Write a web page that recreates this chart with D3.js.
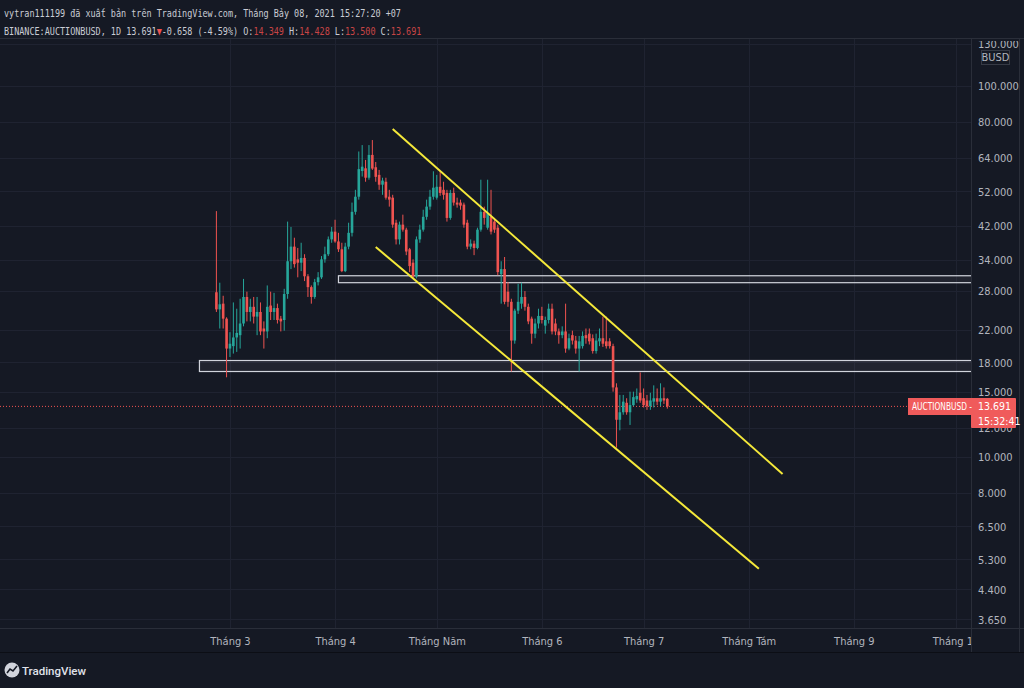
<!DOCTYPE html>
<html>
<head>
<meta charset="utf-8">
<script src="https://cdn.jsdelivr.net/npm/d3@7"></script>
<style>
  html, body { margin: 0; padding: 0; background: #151924; }
  svg { display: block; }
  .ax text { font-family: "Liberation Sans Narrow", "DejaVu Sans Condensed", Roboto, sans-serif; font-size: 11px; fill: #b2b5be; }
</style>
</head>
<body>
<script>
// daily candles, BINANCE:AUCTIONBUSD 1D, starting 2021-02-25
var startDay = new Date(Date.UTC(2021, 1, 25));

var open = [27.8,25.0,25.9,23.6,19.6,19.9,21.0,21.3,22.9,27.0,24.6,25.4,23.9,24.6,22.2,21.8,25.6,24.6,25.2,23.6,
  23.4,27.5,33.7,36.9,34.1,33.4,34.4,30.7,28.7,27.0,29.6,30.5,34.1,35.2,38.6,40.5,38.1,36.3,31.7,36.9,
  40.2,45.8,50.3,59.0,60.0,56.6,65.2,60.4,57.6,54.2,55.2,50.3,50.0,42.8,38.6,42.3,41.0,36.3,33.4,30.7,
  38.6,41.0,44.4,47.3,50.3,50.0,53.5,52.5,51.5,44.1,51.5,48.5,48.5,47.9,42.8,36.9,37.6,36.6,41.0,45.8,
  41.5,44.4,43.1,41.5,31.1,32.1,27.9,26.2,20.6,24.8,25.9,27.0,25.4,23.6,21.5,22.9,24.0,22.6,23.4,25.1,
  22.9,21.8,21.3,21.8,19.6,21.3,20.6,19.6,19.9,21.3,21.5,20.9,19.3,20.5,20.9,20.5,20.5,19.9,15.4,12.6,
  13.2,14.0,13.2,13.8,14.3,14.9,14.4,14.2,13.7,14.1,14.4,14.1,14.4,14.349];
var high = [46.0,29.5,27.2,23.8,21.7,26.1,25.1,26.7,30.2,27.9,26.7,27.0,27.0,26.1,23.2,29.0,27.9,27.7,25.9,24.0,
  28.4,43.1,41.7,39.0,36.6,37.8,35.2,31.1,29.0,30.2,31.5,34.8,36.9,39.3,41.7,43.6,40.2,37.8,37.8,42.8,
  48.5,52.5,66.6,69.3,63.2,69.3,71.5,62.4,59.4,56.6,56.6,52.5,50.9,43.6,43.1,45.0,41.5,36.6,34.1,39.3,
  42.3,46.4,49.4,52.5,58.9,57.6,58.9,55.2,52.5,52.5,53.2,50.0,49.4,48.5,43.6,38.6,38.3,41.5,55.9,47.3,
  55.9,52.5,44.1,42.3,33.7,34.6,29.6,26.7,25.1,29.3,29.5,28.0,25.9,23.9,23.6,25.1,25.4,23.9,25.9,25.9,
  23.6,22.2,22.5,25.9,21.5,21.9,21.2,21.2,21.8,22.2,22.2,21.4,21.5,22.2,23.9,23.9,20.9,20.2,15.8,14.7,
  14.7,14.4,15.0,15.0,15.3,16.9,15.3,14.7,14.9,15.6,15.3,15.8,15.4,14.428];
var low = [24.6,22.2,22.2,16.4,18.6,19.0,19.2,19.6,22.5,23.2,23.2,22.9,21.3,21.3,19.6,20.9,23.4,23.4,22.9,21.8,
  21.9,26.7,32.1,32.4,30.5,31.7,29.8,27.0,25.9,26.7,29.0,30.2,33.4,34.8,37.8,37.8,35.7,31.5,31.5,36.3,
  39.3,45.0,49.4,57.0,55.2,55.9,59.4,55.2,52.5,50.9,49.4,47.3,41.5,37.4,37.4,40.5,35.0,31.5,30.2,30.3,
  37.8,40.5,43.6,46.4,49.4,49.4,50.6,49.4,43.1,43.6,47.6,47.0,46.4,41.5,36.3,36.3,35.0,36.3,40.5,42.3,
  41.0,39.8,40.2,30.9,25.9,25.8,25.4,17.0,20.2,24.3,25.1,24.8,22.8,20.2,20.9,22.2,22.9,21.5,22.9,21.4,
  21.3,20.2,20.9,19.1,19.4,20.1,19.0,17.0,19.6,20.2,20.1,19.0,19.0,19.9,19.8,19.6,19.6,15.0,10.6,11.8,
  13.0,13.0,12.2,13.7,14.0,14.0,13.6,13.4,13.4,13.6,13.8,13.7,13.9,13.5];
var close = [25.0,25.8,23.6,19.6,20.2,21.0,21.6,22.9,27.0,24.6,25.4,23.9,24.6,21.8,21.8,25.4,24.6,25.2,23.4,23.2,
  27.5,33.7,36.9,33.1,33.4,34.4,30.7,28.7,27.0,29.6,30.5,34.1,35.2,38.6,40.5,38.1,36.3,31.7,36.9,40.2,
  45.8,50.3,59.7,60.6,56.6,65.2,59.9,56.9,54.2,55.6,50.0,49.4,42.3,38.6,42.3,41.0,35.8,32.7,30.7,38.6,
  41.0,44.4,47.3,50.3,53.2,53.5,51.5,50.9,44.1,51.5,48.5,47.9,47.6,42.3,36.9,37.6,36.6,41.0,45.8,44.1,
  45.4,40.5,41.0,31.5,32.1,26.2,26.2,20.6,24.8,26.2,27.0,25.4,23.2,21.5,22.9,24.0,23.4,23.4,25.1,21.8,
  21.8,21.3,21.8,19.6,20.9,20.6,19.6,20.5,21.2,20.9,20.5,19.3,20.6,20.9,20.2,19.9,19.9,15.4,12.6,13.2,
  14.1,13.2,13.8,14.5,14.6,14.2,13.8,13.7,14.2,14.4,14.1,14.4,14.2,13.691];

// axes labels
var priceTicks = [130, 100, 80, 64, 52, 42, 34, 28, 22, 18, 15, 12, 10, 8, 6.5, 5.3, 4.4, 3.65];
var monthDates = [[2021,2],[2021,3],[2021,4],[2021,5],[2021,6],[2021,7],[2021,8],[2021,9]];
var monthLabels = ["Tháng 3", "Tháng 4", "Tháng Năm", "Tháng 6", "Tháng 7", "Tháng Tám", "Tháng 9", "Tháng 10"];

// drawings: horizontal zones and the descending channel
var zoneStart = [[2021,1,20], [2021,3,2]];
var zoneTop = [18.2, 30.8];
var zoneBottom = [17.0, 29.5];
var channelUpper = [[[2021,3,18], 76.6], [[2021,7,11], 9.0]];
var channelLower = [[[2021,3,13], 36.8], [[2021,7,4], 5.0]];

var width = 1024, height = 688;
var plotL = 0, plotR = 971, plotT = 38, plotB = 628;

var bg = "#151924", grid = "#1f2331", txt = "#b2b5be";
var up = "#26a69a", down = "#ef5350";

function day(a) { return new Date(Date.UTC(a[0], a[1], a[2] || 1)); }

var svg = d3.select('body').append('svg').attr('width', width).attr('height', height);
svg.append('rect').attr('width', width).attr('height', height).attr('fill', bg);

// scales
var x = d3.scaleUtc()
  .domain([startDay, day([2021,9,1])])
  .range([216.4, 955.5]);
var y = d3.scaleLog()
  .domain([10, 100])
  .range([457, 86]);

svg.append('clipPath').attr('id', 'plot')
  .append('rect').attr('x', plotL).attr('y', plotT).attr('width', plotR - plotL).attr('height', plotB - plotT);

// grid
var g = svg.append('g').attr('clip-path', 'url(#plot)');
g.selectAll('.hg').data(priceTicks).enter().append('line')
  .attr('x1', plotL).attr('x2', plotR)
  .attr('y1', function(d){ return Math.round(y(d)) + 0.5; })
  .attr('y2', function(d){ return Math.round(y(d)) + 0.5; })
  .attr('stroke', grid);
g.selectAll('.vg').data(monthDates).enter().append('line')
  .attr('y1', plotT).attr('y2', plotB)
  .attr('x1', function(d){ return Math.round(x(day(d))) + 0.5; })
  .attr('x2', function(d){ return Math.round(x(day(d))) + 0.5; })
  .attr('stroke', grid);

// zones
zoneTop.forEach(function(t, i){
  var x0 = x(day(zoneStart[i]));
  g.append('rect')
    .attr('x', x0).attr('y', y(t))
    .attr('width', plotR + 5 - x0).attr('height', y(zoneBottom[i]) - y(t))
    .attr('fill', 'rgba(120,123,134,0.12)')
    .attr('stroke', '#d1d4dc').attr('stroke-width', 1.2);
});

// last price dotted line
g.append('line')
  .attr('x1', plotL).attr('x2', plotR)
  .attr('y1', y(close[close.length-1])).attr('y2', y(close[close.length-1]))
  .attr('stroke', down).attr('stroke-dasharray', '1,2');

// candles
var candles = close.map(function(c, i){
  return { t: d3.utcDay.offset(startDay, i), o: open[i], h: high[i], l: low[i], c: c };
});
var cg = g.selectAll('.candle').data(candles).enter().append('g');
cg.append('line')
  .attr('x1', function(d){ return x(d.t); }).attr('x2', function(d){ return x(d.t); })
  .attr('y1', function(d){ return y(d.h); }).attr('y2', function(d){ return y(d.l); })
  .attr('stroke', function(d){ return d.c >= d.o ? up : down; })
  .attr('stroke-width', 1);
cg.append('rect')
  .attr('x', function(d){ return x(d.t) - 1.3; })
  .attr('width', 2.6)
  .attr('y', function(d){ return y(Math.max(d.o, d.c)); })
  .attr('height', function(d){ return Math.max(1, Math.abs(y(d.o) - y(d.c))); })
  .attr('fill', function(d){ return d.c >= d.o ? up : down; });

// channel lines
[channelUpper, channelLower].forEach(function(ln){
  g.append('line')
    .attr('x1', x(day(ln[0][0]))).attr('y1', y(ln[0][1]))
    .attr('x2', x(day(ln[1][0]))).attr('y2', y(ln[1][1]))
    .attr('stroke', '#f5e93a').attr('stroke-width', 2);
});

// frame lines
svg.append('line').attr('x1', 0).attr('x2', width).attr('y1', plotT + 0.5).attr('y2', plotT + 0.5).attr('stroke', '#2a2e39');
svg.append('line').attr('x1', plotR + 0.5).attr('x2', plotR + 0.5).attr('y1', plotT).attr('y2', 652).attr('stroke', '#2a2e39');
svg.append('line').attr('x1', 1019.5).attr('x2', 1019.5).attr('y1', plotT).attr('y2', 652).attr('stroke', '#2a2e39');
svg.append('line').attr('x1', 0).attr('x2', width).attr('y1', plotB + 0.5).attr('y2', plotB + 0.5).attr('stroke', '#2a2e39');
svg.append('line').attr('x1', 0).attr('x2', width).attr('y1', 652.5).attr('y2', 652.5).attr('stroke', '#0c0e15');

// price axis (top label is cut by the pane edge)
svg.append('clipPath').attr('id', 'paxis').append('rect')
  .attr('x', plotR + 1).attr('y', 41).attr('width', 48).attr('height', plotB - 41);
var yAxis = d3.axisRight(y).tickValues(priceTicks).tickFormat(d3.format('.3f')).tickSize(0).tickPadding(7);
var ya = svg.append('g').attr('clip-path', 'url(#paxis)')
  .append('g').attr('class', 'ax').attr('transform', 'translate(' + plotR + ',0)').call(yAxis);
ya.select('.domain').remove();
ya.selectAll('text').attr('dy', '0.35em');

// BUSD tag
svg.append('rect').attr('x', 981.5).attr('y', 50.5).attr('width', 28).attr('height', 14)
  .attr('fill', bg).attr('stroke', '#363a45');
svg.append('text').attr('x', 995.5).attr('y', 61).attr('text-anchor', 'middle')
  .style('font-family', '"Liberation Sans Narrow", "DejaVu Sans Condensed", sans-serif')
  .style('font-size', '11px').attr('fill', txt).text('BUSD');

// time axis
svg.append('clipPath').attr('id', 'taxis').append('rect')
  .attr('x', 0).attr('y', plotB).attr('width', plotR).attr('height', 24);
var xAxis = d3.axisBottom(x)
  .tickValues(monthDates.map(day))
  .tickFormat(function(d, i){ return monthLabels[i]; })
  .tickSize(0).tickPadding(9);
var xa = svg.append('g').attr('clip-path', 'url(#taxis)')
  .append('g').attr('class', 'ax').attr('transform', 'translate(0,' + plotB + ')').call(xAxis);
xa.select('.domain').remove();

// last price label
var lastY = Math.round(y(close[close.length-1]));
svg.append('rect').attr('x', 908).attr('y', lastY - 8).attr('width', 64).attr('height', 17).attr('fill', '#f05b5b');
svg.append('rect').attr('x', 971).attr('y', lastY - 8).attr('width', 45).attr('height', 30).attr('fill', '#f05b5b').attr('rx', 1);
var lab = svg.append('g').style('font-family', '"Liberation Sans Narrow", "DejaVu Sans Condensed", sans-serif')
  .style('font-size', '10.5px').attr('fill', '#ffffff');
lab.append('text').attr('x', 912).attr('y', lastY + 4)
  .attr('textLength', 60).attr('lengthAdjust', 'spacingAndGlyphs').text('AUCTIONBUSD -');
lab.append('text').attr('x', 978).attr('y', lastY + 4).text(d3.format('.3f')(close[close.length-1]));
lab.append('text').attr('x', 978).attr('y', lastY + 19).text('15:32:41');

// header: monospace squeezed horizontally like the screenshot font
var hf = '"DejaVu Sans Mono", "Liberation Mono", monospace';
var squeeze = 0.77;
svg.append('g').attr('transform', 'translate(4,17) scale(' + squeeze + ',1)')
  .append('text')
  .style('font-family', hf).style('font-size', '11px').attr('fill', '#c9ccd4')
  .text('vytran111199 đã xuất bản trên TradingView.com, Tháng Bảy 08, 2021 15:27:20 +07');
var parts = [
  ['BINANCE:AUCTIONBUSD, 1D 13.691', '#c9ccd4'], ['▼', '#ef5350'], ['-0.658 (-4.59%) O:', '#c9ccd4'],
  ['14.349', '#c84545'], ['\u00a0H:', '#c9ccd4'], ['14.428', '#c84545'], ['\u00a0L:', '#c9ccd4'],
  ['13.500', '#c84545'], ['\u00a0C:', '#c9ccd4'], ['13.691', '#c84545']
];
var h2 = svg.append('g').attr('transform', 'translate(4,35) scale(' + squeeze + ',1)')
  .append('text')
  .style('font-family', hf).style('font-size', '11px');
parts.forEach(function(p){ h2.append('tspan').attr('fill', p[1]).text(p[0]); });

// footer logo
var logo = svg.append('g').attr('transform', 'translate(4,662)');
logo.append('circle').attr('cx', 8).attr('cy', 8).attr('r', 7.5).attr('fill', '#d1d4dc');
logo.append('path').attr('d', 'M3,11 L6,7 L9,9 L13,4').attr('fill', 'none').attr('stroke', '#151924').attr('stroke-width', 1.6);
svg.append('text').attr('x', 22).attr('y', 675)
  .style('font-family', 'Roboto, "Noto Sans", sans-serif').style('font-size', '11.5px').style('font-weight', 500)
  .attr('fill', '#e0e3eb').text('TradingView');
</script>
</body>
</html>
